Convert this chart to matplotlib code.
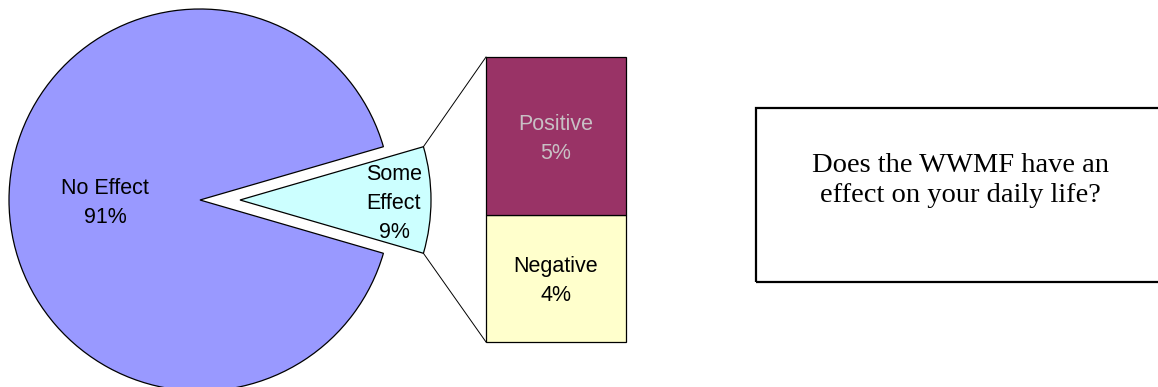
import numpy as np
import matplotlib
matplotlib.use("Agg")
import matplotlib.pyplot as plt
from matplotlib.patches import Rectangle

# Survey answers
pie_labels = ["Some\nEffect", "No Effect"]
pie_values = [9, 91]
pie_colors = ["#CCFFFF", "#9999FF"]

bar_labels = ["Negative", "Positive"]
bar_values = [4, 5]
bar_colors = ["#FFFFCC", "#993366"]
bar_text_colors = ["black", "#C8C0C4"]

question = "Does the WWMF have an\neffect on your daily life?"

W, H = 1158, 387
fig = plt.figure(figsize=(W / 100, H / 100), dpi=100)
ax = fig.add_axes([0, 0, 1, 1])


def py(y):
    """Convert a top-down pixel row into the axes' bottom-up coordinate."""
    return H - y


sans = ["Liberation Sans", "DejaVu Sans"]
serif = ["Liberation Serif", "DejaVu Serif"]
fs = 15.5

# Pie of the two main answers, with the smaller slice pulled out to the right
center = (200, py(200))
radius = 191
half = 360 * pie_values[0] / sum(pie_values) / 2
wedges, _ = ax.pie(
    pie_values,
    colors=pie_colors,
    radius=radius,
    center=center,
    startangle=-half,
    explode=[40, 0],
    wedgeprops=dict(edgecolor="black", linewidth=0.9),
    frame=True,
)


def put_lines(x, baseline_y, lines, color="black", size=fs, family=sans, step=29):
    for i, line in enumerate(lines):
        ax.text(x, py(baseline_y + i * step), line, ha="center", va="baseline",
                fontsize=size, color=color, family=family)


no_lines = pie_labels[1].split("\n") + [f"{pie_values[1]}%"]
put_lines(105, 194, no_lines)
some_lines = pie_labels[0].split("\n") + [f"{pie_values[0]}%"]
put_lines(394, 180.5, some_lines, step=28.5)

# Stacked bar that splits the "Some Effect" slice
bar_x, bar_w = 556, 140
bar_top, bar_bottom = 57, 342
scale = (bar_bottom - bar_top) / sum(bar_values)
bottom = py(bar_bottom)
segments = []
for val, col in zip(bar_values, bar_colors):
    h = val * scale
    ax.bar(bar_x, h, width=bar_w, bottom=bottom, color=col,
           edgecolor="black", linewidth=0.9)
    segments.append((bottom, h))
    bottom += h

for (b, h), name, val, tc in zip(segments, bar_labels, bar_values, bar_text_colors):
    mid = b + h / 2
    ax.text(bar_x, mid + 14.5, name, ha="center", va="center_baseline",
            fontsize=fs, color=tc, family=sans)
    ax.text(bar_x, mid - 14.5, f"{val}%", ha="center", va="center_baseline",
            fontsize=fs, color=tc, family=sans)

# Connector lines from the slice edges to the bar corners
w = wedges[0]
cx, cy = w.center
for ang, corner_y in ((w.theta2, py(bar_top)), (w.theta1, py(bar_bottom))):
    ex = cx + w.r * np.cos(np.radians(ang))
    ey = cy + w.r * np.sin(np.radians(ang))
    ax.plot([ex, bar_x - bar_w / 2], [ey, corner_y], color="black", linewidth=0.7)

# Question box
ax.add_patch(Rectangle((756, py(282)), 420, 282 - 108, fill=False,
                       edgecolor="black", linewidth=1.6))
put_lines(960, 172, question.split("\n"), size=20.5, family=serif, step=30)

ax.set_xlim(0, W)
ax.set_ylim(0, H)
ax.set_aspect("equal")
ax.axis("off")
fig.savefig("out.png", dpi=100, facecolor="white")
